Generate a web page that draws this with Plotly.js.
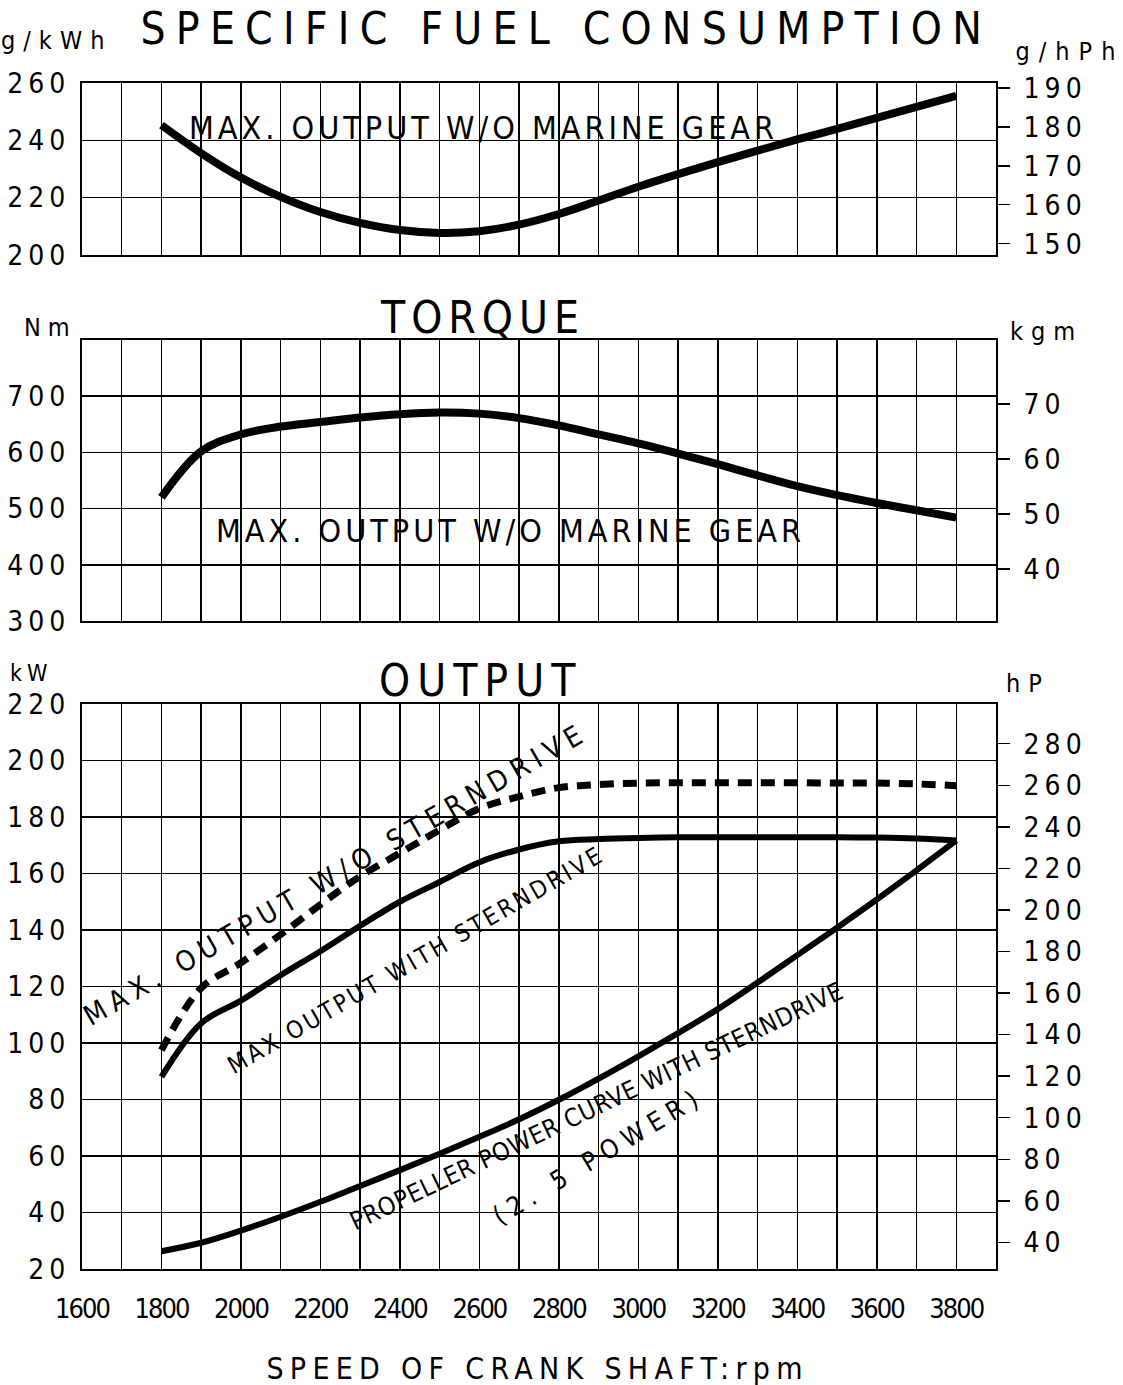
<!DOCTYPE html>
<html><head><meta charset="utf-8">
<script src="https://cdn.plot.ly/plotly-3.0.1.min.js"></script>
<style>
body{margin:0;background:#fff}
#chart{width:1123px;height:1385px}
.ytick text, .y3tick text, .y5tick text {letter-spacing:5px}
.y2tick text, .y4tick text, .y6tick text {letter-spacing:5px}
.xtick text {letter-spacing:-2px}
</style>
<style id="annstyle"></style>
</head><body><div id="chart"></div>
<script>
// ---- data ----
const rpm = [1800,1900,2000,2100,2200,2300,2400,2500,2600,2700,2800,2900,3000,3100,3200,3300,3400,3500,3600,3700,3800];
const sfcMax = [245.3,235.5,227,220.3,215,211.2,208.7,207.7,208.3,210.6,214.3,219,223.8,228.2,232.4,236.4,240.3,244,247.8,251.7,255.5];
const torqueMax = [520,602,632,646,654,662,668,671,669,661,648,632,616,598,579,559,540,524,510,497,484];
const powerWithout = [97.5,119.5,128.4,138.4,149,159,167.2,175.4,183,187.2,190.4,191.5,192,192.1,192.1,192.1,192.1,192,192,191.7,191.1];
const powerWith = [88,107,115,124,132.5,141.5,150,157,164,168.5,171.4,172.2,172.6,172.8,172.8,172.8,172.8,172.8,172.7,172.4,171.7];
const propeller = [26.3,29.3,33.6,38.5,43.8,49.4,55,60.8,66.8,73,79.9,87.4,95.3,103.5,112,121.4,131.1,140.8,150.8,161.1,171.7];

const xTickVals = [1600,1700,1800,1900,2000,2100,2200,2300,2400,2500,2600,2700,2800,2900,3000,3100,3200,3300,3400,3500,3600,3700,3800];
const xTickText = ['1600','','1800','','2000','','2200','','2400','','2600','','2800','','3000','','3200','','3400','','3600','','3800'];
const sfcTicks = [200,220,240,260];
const sfcHpTicks = [150,160,170,180,190];
const torqueTicks = [300,400,500,600,700];
const kgmTicks = [40,50,60,70];
const kwTicks = [20,40,60,80,100,120,140,160,180,200,220];
const hpTicks = [40,60,80,100,120,140,160,180,200,220,240,260,280];

// ---- layout ----
const W = 1123, H = 1385, ML = 82, MR = 127;
const FONT = "'Liberation Sans Narrow','Arial Narrow','DejaVu Sans Condensed','Liberation Sans',sans-serif";
const dom = (top, bot) => [1 - bot / H, 1 - top / H];
const KW_PER_PS = 0.7355, G = 9.80665;

function xax(anchor, labels) {
  return {
    domain: [0, 1], range: [1600, 3900], anchor: anchor,
    tickmode: 'array', tickvals: xTickVals, ticktext: xTickText,
    showticklabels: labels, ticks: 'outside', ticklen: 15, tickcolor: 'rgba(0,0,0,0)',
    showgrid: true, gridcolor: '#000', gridwidth: 1.5,
    showline: true, mirror: true, linecolor: '#000', linewidth: 2,
    zeroline: false, tickfont: {family: FONT, size: 27, color: '#000'}
  };
}
function yleft(domain, range, ticks, anchor) {
  return {
    domain: domain, range: range, anchor: anchor,
    tickmode: 'array', tickvals: ticks,
    ticks: 'outside', ticklen: 4, tickcolor: 'rgba(0,0,0,0)',
    showgrid: true, gridcolor: '#000', gridwidth: 1.5,
    showline: true, mirror: true, linecolor: '#000', linewidth: 2,
    zeroline: false, tickfont: {family: FONT, size: 28, color: '#000'}
  };
}
function yright(overlay, anchor, range, ticks) {
  return {
    overlaying: overlay, anchor: anchor, side: 'right', range: range,
    tickmode: 'array', tickvals: ticks,
    ticks: 'outside', ticklen: 13, tickwidth: 1.5, tickcolor: '#000',
    ticklabelstandoff: 8,
    showgrid: false, showline: false, zeroline: false,
    tickfont: {family: FONT, size: 28, color: '#000'}
  };
}

const annDefs = [
  // text, px, py, size, letterSpacing, angle
  ['SPECIFIC FUEL CONSUMPTION', 566, 29, 44, 10.2, 0],
  ['TORQUE', 482, 317, 44, 6, 0],
  ['OUTPUT', 481, 680, 44, 7, 0],
  ['g/kWh', 56, 41, 25, 8, 0],
  ['g/hPh', 1070, 52, 25, 9, 0],
  ['Nm', 50, 327, 25, 7, 0],
  ['kgm', 1046, 332, 25, 8, 0],
  ['kW', 31, 673, 23, 5, 0],
  ['hP', 1028, 683, 25, 8, 0],
  ['SPEED OF CRANK SHAFT:rpm', 537, 1368, 30, 6.3, 0],
  ['MAX. OUTPUT W/O MARINE GEAR', 483, 128, 32, 4, 0],
  ['MAX. OUTPUT W/O MARINE GEAR', 510, 531, 32, 4, 0],
  ['MAX. OUTPUT W/O STERNDRIVE', 335, 874, 28, 6.6, -30],
  ['MAX OUTPUT WITH STERNDRIVE', 416, 960, 24, 3, -30],
  ['PROPELLER POWER CURVE WITH STERNDRIVE', 596, 1106, 25, 0.6, -25.5],
  ['(2. 5 POWER)', 598, 1156, 26, 7, -31]
];
const annotations = annDefs.map(a => ({
  text: a[0], xref: 'paper', yref: 'paper',
  x: (a[1] - ML) / (W - ML - MR), y: 1 - a[2] / H,
  xanchor: 'center', yanchor: 'middle', showarrow: false,
  textangle: a[5], font: {family: FONT, size: a[3], color: '#000'}
}));
document.getElementById('annstyle').textContent = annDefs.map((a, i) =>
  `g.annotation[data-index="${i}"] text{letter-spacing:${a[4]}px}`).join('\n');

const curve = (x, y, xa, ya, width, dash) => ({
  x: x, y: y, xaxis: xa, yaxis: ya, mode: 'lines', hoverinfo: 'skip',
  line: {color: '#000', width: width, shape: 'spline', dash: dash || 'solid'}
});
// empty traces so the right-hand unit axes get drawn
const holder = (xa, ya) => ({x: [], y: [], xaxis: xa, yaxis: ya, mode: 'lines', hoverinfo: 'skip'});

const traces = [
  curve(rpm, sfcMax, 'x3', 'y5', 8),
  curve(rpm, torqueMax, 'x2', 'y3', 8),
  curve(rpm, powerWithout, 'x', 'y', 7, '14px,9px'),
  curve(rpm, powerWith, 'x', 'y', 6),
  curve(rpm, propeller, 'x', 'y', 6),
  holder('x', 'y2'), holder('x2', 'y4'), holder('x3', 'y6')
];

const layout = {
  width: W, height: H, showlegend: false,
  margin: {l: ML, r: MR, t: 0, b: 0, pad: 0},
  paper_bgcolor: '#fff', plot_bgcolor: '#fff',
  font: {family: FONT, color: '#000'},
  xaxis: xax('y', true),
  xaxis2: xax('y3', false),
  xaxis3: xax('y5', false),
  yaxis: yleft(dom(704, 1269), [20, 220], kwTicks, 'x'),
  yaxis2: yright('y', 'x', [20 / KW_PER_PS, 220 / KW_PER_PS], hpTicks),
  yaxis3: yleft(dom(340, 621), [300, 800], torqueTicks, 'x2'),
  yaxis4: yright('y3', 'x2', [300 / G, 800 / G], kgmTicks),
  yaxis5: yleft(dom(83, 255), [200, 260], sfcTicks, 'x3'),
  yaxis6: yright('y5', 'x3', [200 * KW_PER_PS, 260 * KW_PER_PS], sfcHpTicks),
  annotations: annotations
};

Plotly.newPlot('chart', traces, layout, {staticPlot: true, displayModeBar: false});
</script>
</body></html>
